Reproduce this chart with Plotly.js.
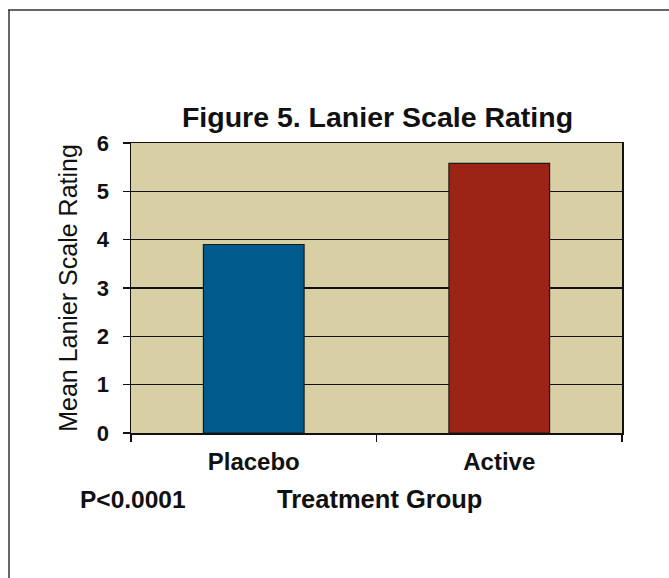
<!DOCTYPE html>
<html>
<head>
<meta charset="utf-8">
<script src="https://cdn.plot.ly/plotly-3.0.1.min.js"></script>
<style>
html,body{margin:0;padding:0;background:#fff;}
#chart{width:669px;height:578px;}
</style>
</head>
<body>
<div id="chart"></div>
<script>
const categories = ["Placebo", "Active"];
const meanRating = [3.9, 5.58];
const barColors = ["#005a8c", "#9c2416"];
const yTicks = [0, 1, 2, 3, 4, 5, 6];
const chartTitle = "Figure 5. Lanier Scale Rating";
const yTitle = "Mean Lanier Scale Rating";
const xTitle = "Treatment Group";
const pNote = "P<0.0001";

const font = "Liberation Sans, Arial, sans-serif";

const data = [{
  type: "bar",
  x: categories,
  y: meanRating,
  marker: {color: barColors, line: {color: "#1a1a1a", width: 1.2}},
  hoverinfo: "skip"
}];

const layout = {
  width: 669, height: 578,
  margin: {l: 131, r: 47, t: 143, b: 145},
  paper_bgcolor: "#ffffff",
  plot_bgcolor: "#d8cfa4",
  showlegend: false,
  bargap: 0.59,
  font: {family: font, color: "#111"},
  xaxis: {
    type: "category",
    range: [-0.5, 1.5],
    showline: true, linecolor: "#111", linewidth: 1.5,
    mirror: true,
    ticks: "outside", ticklen: 7, tickcolor: "#111", tickwidth: 1.5,
    tickson: "boundaries",
    showgrid: false,
    tickfont: {family: font, size: 24, color: "#111", weight: "bold"},
    ticklabelstandoff: 7,
    zeroline: false
  },
  yaxis: {
    range: [0, 6],
    tickvals: yTicks,
    ticktext: yTicks.map(String),
    showline: true, linecolor: "#111", linewidth: 1.5,
    mirror: true,
    ticks: "outside", ticklen: 7, tickcolor: "#111", tickwidth: 1.5,
    showgrid: true, gridcolor: "#111", gridwidth: 1.5,
    zeroline: false,
    tickfont: {family: font, size: 22, color: "#111", weight: "bold"},
    ticklabelstandoff: 9,
    title: {text: yTitle, font: {family: font, size: 25, color: "#111"}, standoff: 12}
  },
  title: {
    text: chartTitle,
    font: {family: font, size: 28.5, color: "#111", weight: "bold"},
    x: 377.5 / 669, xanchor: "center",
    y: 1 - 117/578, yanchor: "middle"
  },
  annotations: [
    {text: xTitle, xref: "paper", yref: "paper", x: (379.5 - 131) / 491, y: 0, xanchor: "center", yanchor: "middle",
     yshift: -66, showarrow: false, font: {family: font, size: 25.5, color: "#111", weight: "bold"}},
    {text: pNote, xref: "paper", yref: "paper", x: (132.5 - 131) / 491, y: 0, xanchor: "center", yanchor: "middle",
     yshift: -66, showarrow: false, font: {family: font, size: 24.5, color: "#111", weight: "bold"}}
  ],
  shapes: [
    {type: "line", xref: "paper", yref: "paper", x0: -123/491, x1: 540/491, y0: 1 + 133/290, y1: 1 + 133/290,
     line: {color: "#333", width: 1.5}},
    {type: "line", xref: "paper", yref: "paper", x0: -122/491, x1: -122/491, y0: 1 + 133/290, y1: -150/290,
     line: {color: "#333", width: 1.5}}
  ]
};

Plotly.newPlot("chart", data, layout, {displayModeBar: false, staticPlot: true});
</script>
</body>
</html>
